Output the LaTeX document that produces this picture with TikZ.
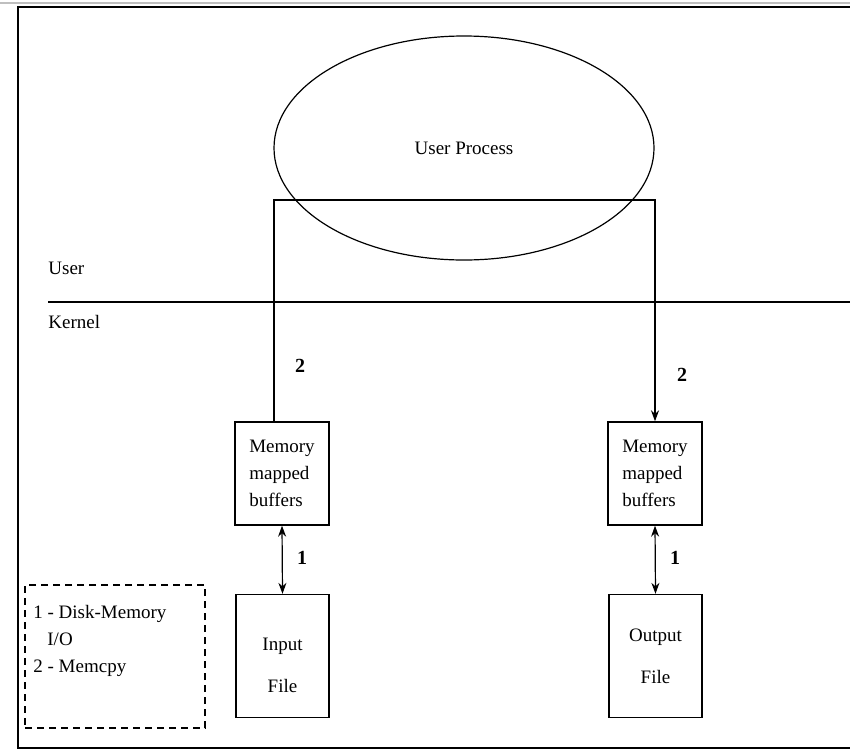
\documentclass[tikz,border=0pt]{standalone}
\usepackage{fontspec}
\setmainfont{Liberation Serif}
\usetikzlibrary{shapes.geometric,arrows.meta}
\tikzset{
  membox/.style={draw,line width=0.7pt,minimum width=47pt,minimum height=51.5pt,align=left,inner sep=1pt},
  filebox/.style={draw,line width=0.7pt,minimum width=46.5pt,minimum height=61.5pt,align=center},
  numlabel/.style={font=\fontsize{10}{13.5}\selectfont\bfseries},
  sidelabel/.style={anchor=west,inner sep=0pt}
}
\begin{document}
\begin{tikzpicture}[x=0.5pt,y=-0.5pt,font=\fontsize{9.5}{13.5}\selectfont,>={Stealth[length=5.5pt,width=4pt]}]
\useasboundingbox (0,0) rectangle (850,750);
\draw[gray!50,line width=1pt] (0,3) -- (850,3);
\draw[line width=1pt] (850,7) -- (18,7) -- (18,748) -- (850,748);
\node[draw,ellipse,line width=0.6pt,minimum width=190pt,minimum height=112pt] (proc) at (464,148) {User Process};
\draw[line width=1pt] (48,302) -- (850,302);
\node[sidelabel] (user) at (48,268) {User};
\node[sidelabel] (kernel) at (48,322) {Kernel};
\node[membox] (lmem) at (282,473.5) {Memory\\mapped\\buffers};
\node[membox] (rmem) at (655,473.5) {Memory\\mapped\\buffers};
\node[filebox] (lfile) at (282.5,656) {\rule{0pt}{16pt}Input\\[7.5pt]File};
\node[filebox] (rfile) at (655.5,656) {Output\\[7.5pt]File};
\coordinate (lcorner) at (274,200);
\coordinate (rcorner) at (655,200);
\draw[line width=0.6pt,->] (lcorner |- lmem.north) -- (lcorner) -- (rcorner) -- (rmem.north);
\draw[line width=0.6pt,<->] (lmem.south) -- (lfile.north);
\draw[line width=0.6pt,<->] (rmem.south) -- (rfile.north);
\node[numlabel] (ltwo) at (300,366) {2};
\node[numlabel] (rtwo) at (682,375) {2};
\node[numlabel] (lone) at (302,558) {1};
\node[numlabel] (rone) at (675,558) {1};
\node[draw,line width=0.6pt,dash pattern=on 3.5pt off 2.5pt,minimum width=90pt,minimum height=71.5pt] (legend) at (115,656.5) {};
\node[anchor=north west,align=left,inner sep=0pt] (key) at (33,605) {1 - Disk-Memory\\\hspace{7pt}I/O\\2 - Memcpy};
\end{tikzpicture}
\end{document}
